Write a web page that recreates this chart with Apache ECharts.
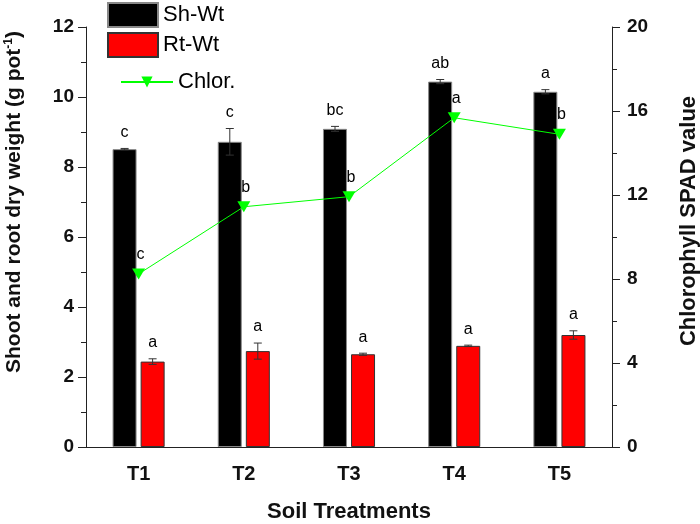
<!DOCTYPE html>
<html>
<head>
<meta charset="utf-8">
<script src="https://cdn.jsdelivr.net/npm/echarts@6/dist/echarts.min.js"></script>
<style>html,body{margin:0;padding:0;background:#fff}#c{width:700px;height:524px}</style>
</head>
<body>
<div id="c"></div>
<script>
const categories = ['T1', 'T2', 'T3', 'T4', 'T5'];
const shootWt = [8.51, 8.72, 9.09, 10.44, 10.15];
const shootErr = [0.02, 0.38, 0.07, 0.06, 0.06];
const rootWt = [2.44, 2.74, 2.65, 2.89, 3.20];
const rootErr = [0.08, 0.23, 0.03, 0.02, 0.12];
const chlor = [8.24, 11.44, 11.92, 15.68, 14.89];
const shootLetters = ['c', 'c', 'bc', 'ab', 'a'];
const rootLetters = ['a', 'a', 'a', 'a', 'a'];
const chlorLetters = ['c', 'b', 'b', 'a', 'b'];
const leftTicks = [0, 2, 4, 6, 8, 10, 12];
const rightTicks = [0, 4, 8, 12, 16, 20];

const FONT = 'Liberation Sans, Arial, sans-serif';
const BAR_OFF = 14;

function errData(vals, errs) {
  return vals.map((v, i) => [i, v - errs[i], v + errs[i]]);
}
function errRender(offset, letters) {
  return function (params, api) {
    const x = api.coord([api.value(0), 0])[0] + offset;
    const yl = api.coord([api.value(0), api.value(1)])[1];
    const yh = api.coord([api.value(0), api.value(2)])[1];
    const hw = 4;
    const st = { stroke: '#333', lineWidth: 1 };
    return {
      type: 'group',
      children: [
        { type: 'line', shape: { x1: x, y1: yl, x2: x, y2: yh }, style: st },
        { type: 'line', shape: { x1: x - hw, y1: yh, x2: x + hw, y2: yh }, style: st },
        { type: 'line', shape: { x1: x - hw, y1: yl, x2: x + hw, y2: yl }, style: st },
        {
          type: 'text', x: x, y: yh - 8,
          style: {
            text: letters[params.dataIndex], fill: '#000',
            font: '16px ' + FONT, align: 'center', verticalAlign: 'bottom'
          }
        }
      ]
    };
  };
}

const chart = echarts.init(document.getElementById('c'));
chart.setOption({
  animation: false,
  textStyle: { fontFamily: FONT },
  grid: { left: 86, right: 88, top: 27, bottom: 77, containLabel: false, outerBoundsMode: 'none' },
  legend: [
    {
      data: ['Sh-Wt', 'Rt-Wt'],
      orient: 'vertical',
      left: 107, top: 2,
      icon: 'rect',
      itemWidth: 50, itemHeight: 24, itemGap: 4,
      textStyle: { fontSize: 22, color: '#000', fontFamily: FONT },
      padding: 0
    },
    {
      data: ['Chlor.'],
      left: 120, top: 71,
      itemWidth: 52, itemHeight: 14,
      textStyle: { fontSize: 22, color: '#000', fontFamily: FONT },
      padding: 0
    }
  ],
  xAxis: [
    {
      type: 'category',
      data: categories,
      axisLine: { lineStyle: { color: '#222', width: 1 } },
      axisTick: { alignWithLabel: true, length: 8, lineStyle: { color: '#222' } },
      axisLabel: { fontSize: 20, fontWeight: 'bold', color: '#111', margin: 17, fontFamily: FONT },
      name: 'Soil Treatments',
      nameLocation: 'middle',
      nameGap: 54,
      nameTextStyle: { fontSize: 22, fontWeight: 'bold', color: '#111', fontFamily: FONT }
    },
    {
      type: 'category',
      data: categories,
      position: 'bottom',
      axisLine: { show: false },
      axisTick: { alignWithLabel: false, length: 4, lineStyle: { color: '#222' } },
      axisLabel: { show: false }
    }
  ],
  yAxis: [
    {
      type: 'value',
      min: leftTicks[0], max: leftTicks[leftTicks.length - 1], interval: 2,
      position: 'left',
      axisLine: { show: true, lineStyle: { color: '#222', width: 1 } },
      axisTick: { show: true, length: 8, lineStyle: { color: '#222' } },
      minorTick: { show: true, splitNumber: 2, length: 5, lineStyle: { color: '#222' } },
      splitLine: { show: false },
      axisLabel: { fontSize: 19, fontWeight: 'bold', color: '#111', margin: 12, fontFamily: FONT },
      name: 'Shoot and root dry weight (g pot{sup|-1})',
      nameLocation: 'middle',
      nameRotate: 90,
      nameGap: 61,
      nameTextStyle: {
        fontSize: 21, fontWeight: 'bold', color: '#111', fontFamily: FONT,
        padding: [0, 0, 0, 70],
        rich: { sup: { fontSize: 12, fontWeight: 'bold', verticalAlign: 'top', padding: [0, 0, 10, 0], fontFamily: FONT } }
      }
    },
    {
      type: 'value',
      min: rightTicks[0], max: rightTicks[rightTicks.length - 1], interval: 4,
      position: 'right',
      axisLine: { show: true, lineStyle: { color: '#222', width: 1 } },
      axisTick: { show: true, length: 8, lineStyle: { color: '#222' } },
      minorTick: { show: true, splitNumber: 2, length: 5, lineStyle: { color: '#222' } },
      splitLine: { show: false },
      axisLabel: { fontSize: 19, fontWeight: 'bold', color: '#111', margin: 15, fontFamily: FONT },
      name: 'Chlorophyll SPAD value',
      nameLocation: 'middle',
      nameRotate: 90,
      nameGap: 66,
      nameTextStyle: {
        fontSize: 22, fontWeight: 'bold', color: '#111', fontFamily: FONT,
        padding: [0, 0, 0, 32]
      }
    }
  ],
  series: [
    {
      name: 'Sh-Wt', type: 'bar', data: shootWt,
      barWidth: 24, barGap: '17%',
      itemStyle: { color: '#000', borderColor: '#888', borderWidth: 1 }
    },
    {
      name: 'Rt-Wt', type: 'bar', data: rootWt,
      barWidth: 24, barGap: '17%',
      itemStyle: { color: '#ff0000', borderColor: '#333', borderWidth: 1 }
    },
    {
      type: 'custom', data: errData(shootWt, shootErr),
      renderItem: errRender(-BAR_OFF, shootLetters), z: 5, silent: true
    },
    {
      type: 'custom', data: errData(rootWt, rootErr),
      renderItem: errRender(BAR_OFF, rootLetters), z: 5, silent: true
    },
    {
      name: 'Chlor.', type: 'line', yAxisIndex: 1, data: chlor,
      symbol: 'triangle', symbolRotate: 180, symbolSize: [13, 11],
      lineStyle: { color: '#00ff00', width: 1 },
      itemStyle: { color: '#00ff00' },
      z: 6,
      label: {
        show: true, position: 'top', distance: 6, offset: [2, 0],
        fontSize: 16, color: '#000', fontFamily: FONT,
        formatter: p => chlorLetters[p.dataIndex]
      }
    }
  ]
});
</script>
</body>
</html>
